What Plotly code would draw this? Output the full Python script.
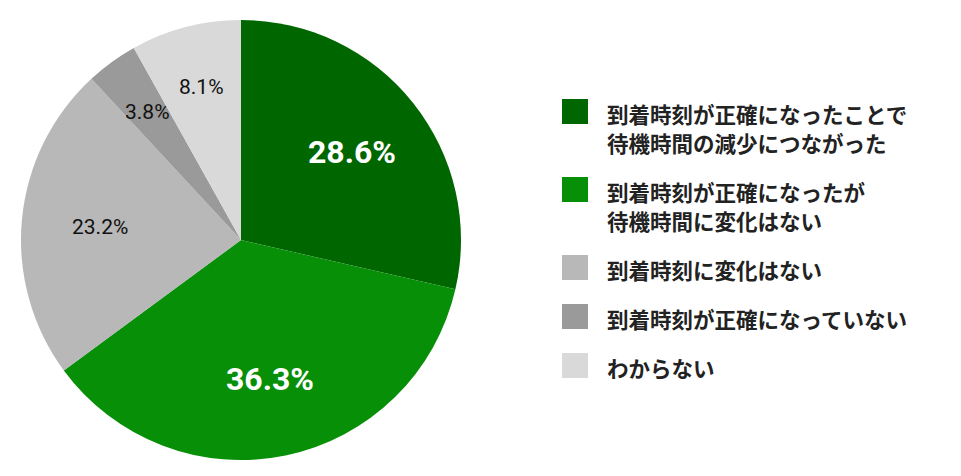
import math
import plotly.graph_objects as go

# data
labels = [
    "到着時刻が正確になったことで<br>待機時間の減少につながった",
    "到着時刻が正確になったが<br>待機時間に変化はない",
    "到着時刻に変化はない",
    "到着時刻が正確になっていない",
    "わからない",
]
values = [28.6, 36.3, 23.2, 3.8, 8.1]
colors = ["#006600", "#078f07", "#b8b8b8", "#9a9a9a", "#d9d9d9"]

W, H = 961, 476
OFF = 8  # page body margin
cx, cy, R = 241 - OFF, 240 - OFF, 220  # pie centre / radius in px


def px2paper(x, y):
    return x / W, 1 - y / H


fig = go.Figure(go.Pie(
    labels=labels, values=values,
    sort=False, direction="clockwise", rotation=0,
    marker=dict(colors=colors, line=dict(width=0)),
    textinfo="none", hoverinfo="label+percent",
    showlegend=False,
    domain=dict(x=[(cx - R) / W, (cx + R) / W], y=[1 - (cy + R) / H, 1 - (cy - R) / H]),
))

# percentage labels placed at slice mid-angles
total = sum(values)
acc = 0
anns = []
for v in values:
    mid = (acc + v / 2) / total * 2 * math.pi
    acc += v
    big = v > 25
    frac = 0.645 if v > 15 else 0.72
    x, y = px2paper(cx + frac * R * math.sin(mid), cy - frac * R * math.cos(mid))
    anns.append(dict(
        x=x, y=y, xref="paper", yref="paper", showarrow=False,
        xanchor="center", yanchor="middle",
        text=f"{v:.1f}%",
        font=dict(family="Roboto, Noto Sans CJK JP", size=32 if big else 21,
                  color="white" if big else "#111", weight="bold" if big else "normal"),
    ))

# hand-made legend with large square keys
shapes = []
ly = 111.5 - OFF
for lab, col in zip(labels, colors):
    lines = lab.split("<br>")
    x0, y0 = px2paper(562 - OFF, ly - 12.5)
    x1, y1 = px2paper(588 - OFF, ly + 12.5)
    shapes.append(dict(type="rect", xref="paper", yref="paper",
                       x0=x0, x1=x1, y0=y0, y1=y1,
                       fillcolor=col, line=dict(width=0)))
    for i, ln in enumerate(lines):
        tx, ty = px2paper(605 - OFF, ly + 2 + i * 29)
        anns.append(dict(
            x=tx, y=ty, xref="paper", yref="paper",
            xanchor="left", yanchor="middle", showarrow=False, text=ln,
            font=dict(family="Noto Sans CJK JP", size=21.5, color="#222", weight="bold"),
        ))
    ly += 49 + 29 * (len(lines) - 1)

fig.update_layout(
    width=W, height=H,
    margin=dict(l=0, r=0, t=0, b=0),
    paper_bgcolor="white", plot_bgcolor="white",
    annotations=anns, shapes=shapes,
)

fig.write_html("out.html")
